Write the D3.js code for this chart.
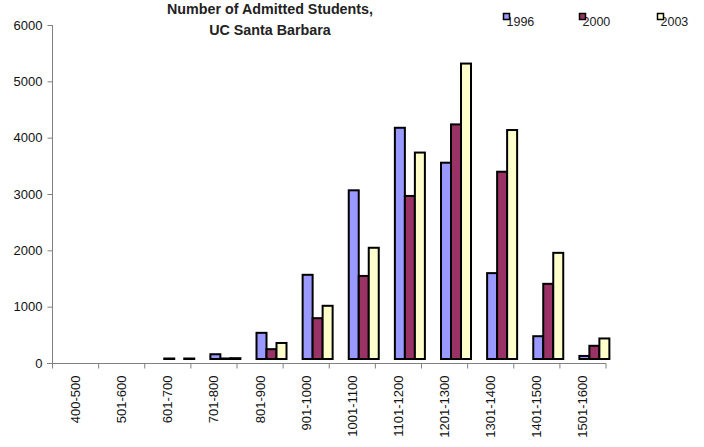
<!DOCTYPE html>
<html><head><meta charset="utf-8">
<script src="https://cdn.jsdelivr.net/npm/d3@7"></script>
<style>
html,body{margin:0;padding:0;background:#fff;}
svg text{font-family:"Liberation Sans",Arial,sans-serif;}
</style></head>
<body><div id="chart"></div>
<script>
const categories = ["400-500","501-600","601-700","701-800","801-900","901-1000","1001-1100","1101-1200","1201-1300","1301-1400","1401-1500","1501-1600"];
const seriesNames = ["1996","2000","2003"];
const values1996 = [0,0,12,120,500,1530,3030,4140,3520,1560,440,90];
const values2000 = [0,0,0,45,210,760,1510,2930,4200,3360,1370,270];
const values2003 = [0,0,12,50,320,980,2010,3700,5280,4100,1920,400];
const seriesColors = ["#9999FF","#993366","#FFFFCC"];
const yTicks = [0,1000,2000,3000,4000,5000,6000];
const titleLines = ["Number of Admitted Students,","UC Santa Barbara"];

const series = [values1996, values2000, values2003];
const W = 704, H = 447;
const svg = d3.select("#chart").append("svg").attr("width", W).attr("height", H);

const x = d3.scaleBand().domain(categories).range([52.5, 606]).padding(0);
const y = d3.scaleLinear().domain([0, 6000]).range([363, 25]);

// y axis
const yAxis = d3.axisLeft(y).tickValues(yTicks).tickSize(5).tickPadding(5).tickFormat(d3.format("d"));
const gy = svg.append("g").attr("transform", "translate(52.5,0)").call(yAxis);
gy.select(".domain").attr("stroke", "#808080").attr("d", "M-0,25V368");
gy.selectAll(".tick line").attr("stroke", "#808080");
gy.selectAll(".tick text").attr("fill", "#111").style("font-size", "13px");

// x axis
const gx = svg.append("g").attr("transform", "translate(0,363.5)");
gx.append("line").attr("x1", 47).attr("x2", 606).attr("stroke", "#808080");
const bounds = categories.map(c => x(c)).concat([x.range()[1]]);
gx.selectAll("line.tk").data(bounds).join("line").attr("class","tk")
  .attr("x1", d => d).attr("x2", d => d).attr("y1", 0).attr("y2", 5).attr("stroke", "#808080");
gx.selectAll("text").data(categories).join("text")
  .attr("transform", d => `translate(${x(d) + x.bandwidth()/2 + 4.5},12) rotate(-90)`)
  .attr("text-anchor", "end").attr("fill", "#111").style("font-size", "13px").text(d => d);

// bars
const barW = 10, offset = 19.5;
const bars = svg.append("g");
series.forEach((vals, si) => {
  bars.selectAll("rect.s" + si).data(categories.map((c, i) => ({c, v: vals[i]})).filter(d => d.v > 0))
    .join("rect").attr("class", "s" + si)
    .attr("x", d => x(d.c) + offset + si * barW)
    .attr("width", barW)
    .attr("y", d => Math.min(y(d.v) - 2, y(0) - 4.5))
    .attr("height", d => Math.max(0.5, y(0) - y(d.v) - 2))
    .attr("fill", seriesColors[si]).attr("stroke", "#000").attr("stroke-width", 2);
});

// title
svg.append("text").attr("x", 270).attr("y", 0).attr("text-anchor", "middle")
  .style("font-size", "14.3px").style("font-weight", "bold").attr("fill", "#222")
  .selectAll("tspan").data(titleLines).join("tspan")
  .attr("x", 270).attr("y", (d, i) => 14 + i * 21).text(d => d);

// legend
const legX = [503.5, 579.5, 657.5];
const leg = svg.append("g");
seriesNames.forEach((n, i) => {
  leg.append("text").attr("x", legX[i] + 3).attr("y", 26).attr("fill", "#222")
    .style("font-size", "12.5px").text(n);
  leg.append("rect").attr("x", legX[i]).attr("y", 13.5).attr("width", 6).attr("height", 6)
    .attr("fill", seriesColors[i]).attr("stroke", "#000").attr("stroke-width", 1.5);
});
</script></body></html>
